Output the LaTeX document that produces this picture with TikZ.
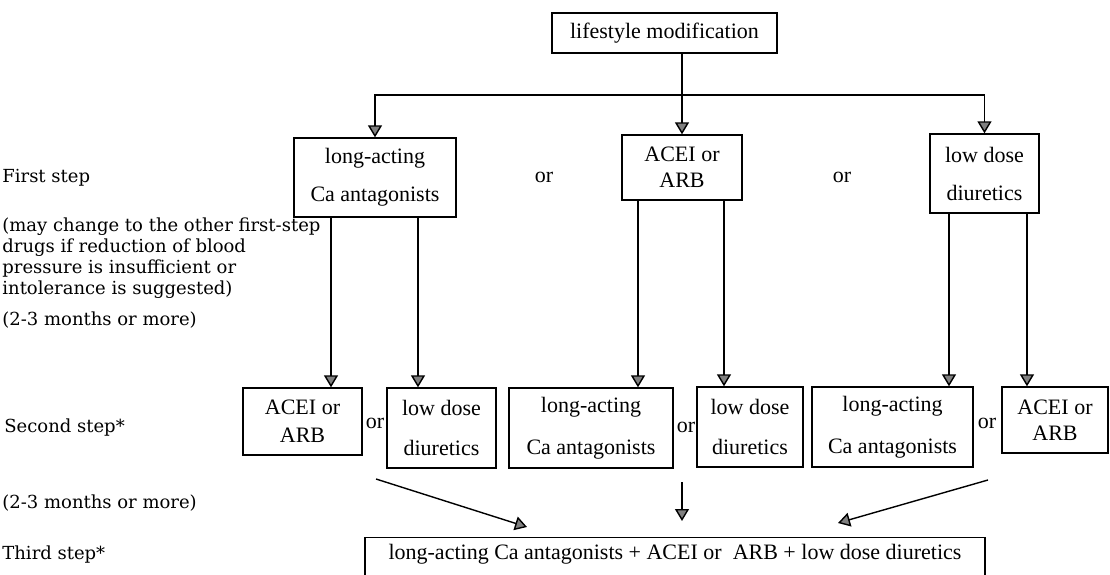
\documentclass[tikz,border=0pt]{standalone}
\usepackage{fontspec}
\setmainfont{Liberation Serif}
\newfontfamily\notefont{DejaVu Serif}
\usetikzlibrary{arrows.meta,positioning}
\tikzset{
    every node/.style={font=\fontsize{11}{13}\selectfont},
}

\begin{document}
\begin{tikzpicture}[x=0.5pt,y=-0.5pt,
        box/.style={draw,line width=0.7pt,inner sep=0pt,align=center},
        note/.style={anchor=west,inner sep=0pt,align=left,font=\notefont\fontsize{9}{10.5}\selectfont},
        arr/.style={-{Triangle[length=6pt,width=7pt,fill=gray]},line width=0.7pt}
    ]
    \useasboundingbox (0,0) rectangle (1110,574);

    % step labels on the left
    \node[note] (lab1) at (2,178) {First step};
    \node[note] (lab2) at (2,258) {(may change to the other first-step\\drugs if reduction of blood\\pressure is insufficient or\\intolerance is suggested)};
    \node[note] (lab3) at (2,320) {(2-3 months or more)};
    \node[note] (lab4) at (4,428) {Second step*};
    \node[note] (lab5) at (2,503) {(2-3 months or more)};
    \node[note] (lab6) at (2,555) {Third step*};

    % top
    \node[box,minimum width=112.5pt,minimum height=20pt] (life) at (664.5,33) {lifestyle modification};

    % first step
    \node[box,minimum width=81pt,minimum height=39.5pt] (f1) at (375,177.5) {long-acting\\[6pt]Ca antagonists};
    \node[box,minimum width=60pt,minimum height=32.5pt] (f2) at (682,167.5) {ACEI or\\ARB};
    \node[box,minimum width=54.5pt,minimum height=39.5pt] (f3) at (984.5,173.5) {low dose\\[6pt]diuretics};
    \node (or1) at (544,177) {or};
    \node (or2) at (842,177) {or};

    % second step
    \node[box,minimum width=59.5pt,minimum height=33.5pt] (s1) at (302.5,421.5) {ACEI or\\[1pt]ARB};
    \node[box,minimum width=54.5pt,minimum height=40pt] (s2) at (441.5,428) {low dose\\[7pt]diuretics};
    \node[box,minimum width=82pt,minimum height=40pt] (s3) at (591,428) {long-acting\\[8pt]Ca antagonists};
    \node[box,minimum width=53pt,minimum height=40pt] (s4) at (750,427) {low dose\\[7pt]diuretics};
    \node[box,minimum width=80.5pt,minimum height=40pt] (s5) at (892.5,427) {long-acting\\[8pt]Ca antagonists};
    \node[box,minimum width=53pt,minimum height=33pt] (s6) at (1055,420) {ACEI or\\ARB};
    \node (or3) at (375,423) {or};
    \node (or4) at (686,427) {or};
    \node (or5) at (987,423) {or};

    % third step (lower edge runs off the page)
    \node[box,anchor=north,minimum width=310pt,inner ysep=0pt,text height=11pt,text depth=20pt] (third) at (675,537)
        {long-acting Ca antagonists + ACEI or~ ARB + low dose diuretics};

    % lifestyle -> first step
    \coordinate (bus) at (683,95);
    \draw[arr] (life.south -| f2.north) -- (f2.north);
    \draw[arr] (bus -| f3.north) -| (f1.north);
    \draw[arr] (bus -| f3.north) -- (f3.north);

    % first step -> second step
    \draw[arr] (f1.south -| 331,0) -- (s1.north -| 331,0);
    \draw[arr] (f1.south -| 418,0) -- (s2.north -| 418,0);
    \draw[arr] (f2.south -| 638,0) -- (s3.north -| 638,0);
    \draw[arr] (f2.south -| 724,0) -- (s4.north -| 724,0);
    \draw[arr] (f3.south -| 949,0) -- (s5.north -| 949,0);
    \draw[arr] (f3.south -| 1027,0) -- (s6.north -| 1027,0);

    % second step -> third step
    \coordinate (a1) at (376,479);
    \coordinate (a2) at (527,527);
    \coordinate (b1) at (682,482);
    \coordinate (b2) at (682,521);
    \coordinate (c1) at (988,480);
    \coordinate (c2) at (838,523);
    \draw[arr] (a1) -- (a2);
    \draw[arr] (b1) -- (b2);
    \draw[arr] (c1) -- (c2);
\end{tikzpicture}
\end{document}
